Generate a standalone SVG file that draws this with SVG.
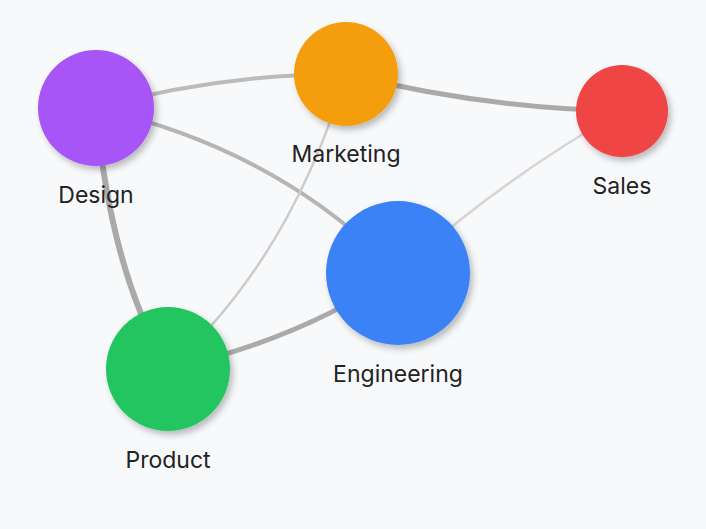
<svg xmlns="http://www.w3.org/2000/svg" width="706" height="529" viewBox="0 0 706 529">
<defs>
<filter id="sh" x="-30%" y="-30%" width="160%" height="160%"><feDropShadow dx="3" dy="4" stdDeviation="3" flood-color="#000" flood-opacity="0.25"/></filter>
<style>
.e{fill:none;stroke-linecap:round}
.l{font-family:Inter,"Liberation Sans",sans-serif;font-size:23px;fill:#222;text-anchor:middle}
</style>
</defs>
<rect width="706" height="529" fill="#f8f9fb"/>
<g id="connectors">
<path class="e" d="M96,108 Q220,74 346,74" stroke="#bbb" stroke-width="4"/>
<path class="e" d="M346,74 Q480,108 622,111" stroke="#aaa" stroke-width="5"/>
<path class="e" d="M96,108 Q280,150 398,273" stroke="#b5b5b5" stroke-width="4"/>
<path class="e" d="M96,108 Q110,270 168,369" stroke="#aaa" stroke-width="6"/>
<path class="e" d="M346,74 Q290,260 168,369" stroke="#ccc" stroke-width="2.5"/>
<path class="e" d="M622,111 Q500,180 398,273" stroke="#d5d5d5" stroke-width="2.5"/>
<path class="e" d="M168,369 Q300,340 398,273" stroke="#aaa" stroke-width="5"/>
</g>
<g id="design"><circle cx="96" cy="108" r="58" fill="#a855f7" filter="url(#sh)"/><text class="l" x="96" y="203">Design</text></g>
<g id="marketing"><circle cx="346" cy="74" r="52" fill="#f59e0b" filter="url(#sh)"/><text class="l" x="346" y="162">Marketing</text></g>
<g id="sales"><circle cx="622" cy="111" r="46" fill="#ef4444" filter="url(#sh)"/><text class="l" x="622" y="194">Sales</text></g>
<g id="engineering"><circle cx="398" cy="273" r="72" fill="#3b82f6" filter="url(#sh)"/><text class="l" x="398" y="382">Engineering</text></g>
<g id="product"><circle cx="168" cy="369" r="62" fill="#22c55e" filter="url(#sh)"/><text class="l" x="168" y="468">Product</text></g>
</svg>
